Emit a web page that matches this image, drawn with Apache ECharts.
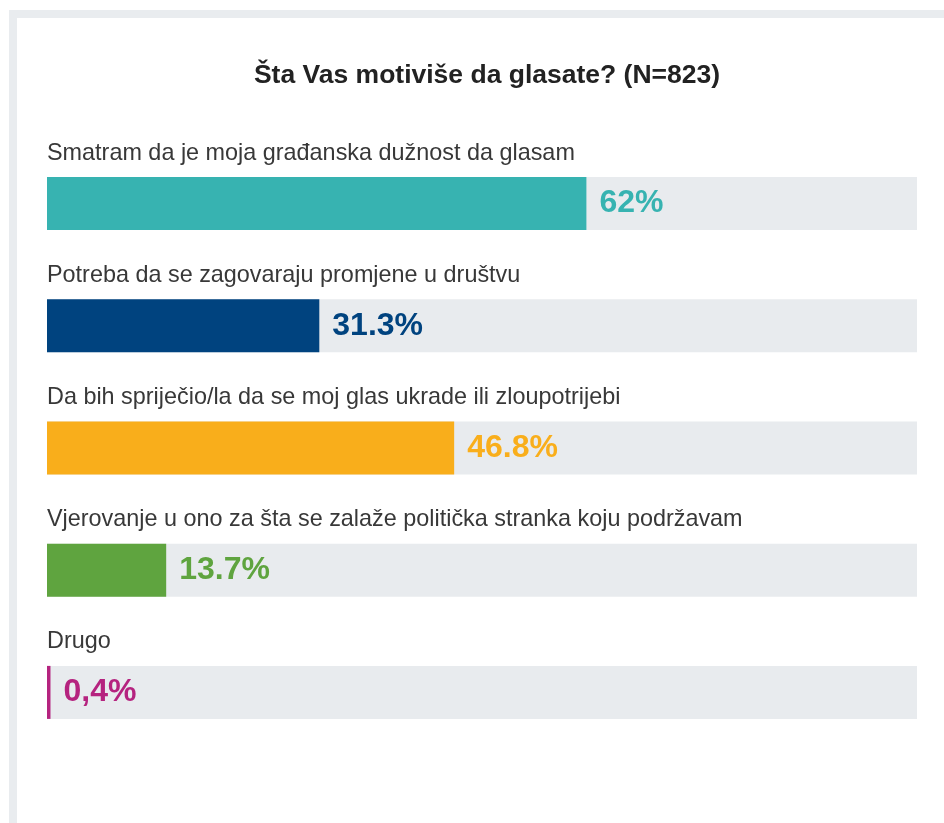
<!DOCTYPE html>
<html><head><meta charset="utf-8">
<script src="https://cdn.jsdelivr.net/npm/echarts@6/dist/echarts.min.js"></script>
<style>html,body{margin:0;padding:0;background:#fff}#c{width:944px;height:823px}</style>
</head><body><div id="c"></div>
<script>
const categories = [
  "Smatram da je moja građanska dužnost da glasam",
  "Potreba da se zagovaraju promjene u društvu",
  "Da bih spriječio/la da se moj glas ukrade ili zloupotrijebi",
  "Vjerovanje u ono za šta se zalaže politička stranka koju podržavam",
  "Drugo"
];
const values = [62, 31.3, 46.8, 13.7, 0.4];
const valueLabels = ["62%", "31.3%", "46.8%", "13.7%", "0,4%"];
const colors = ["#37b3b1", "#00437f", "#f9ae1b", "#5fa43f", "#b5237f"];

const chart = echarts.init(document.getElementById('c'), null, {renderer: 'canvas'});
const FONT = '"Liberation Sans", Arial, Helvetica, sans-serif';
chart.setOption({
  animation: false,
  backgroundColor: '#fff',
  title: {
    text: 'Šta Vas motiviše da glasate? (N=823)',
    left: 482, top: 57, textAlign: 'center',
    textStyle: {fontFamily: FONT, fontSize: 26.5, fontWeight: 'bold', color: '#222'}
  },
  graphic: [
    {type: 'rect', shape: {x: 9, y: 10, width: 935, height: 8}, style: {fill: '#e9ecef'}},
    {type: 'rect', shape: {x: 9, y: 10, width: 8, height: 813}, style: {fill: '#e9ecef'}}
  ],
  grid: {left: 47, right: 27, top: 142.5, bottom: 69.5},
  xAxis: {type: 'value', min: 0, max: 100, show: false},
  yAxis: {type: 'category', data: categories, inverse: true, show: false},
  series: [
    {
      type: 'bar', barWidth: 53,
      data: values.map((v, i) => ({value: v, itemStyle: {color: colors[i]},
        label: {color: colors[i], formatter: valueLabels[i]}})),
      showBackground: true,
      backgroundStyle: {color: '#e8ebee'},
      label: {show: true, position: 'right', distance: 13,
        fontFamily: FONT, fontSize: 32, fontWeight: 'bold'}
    },
    {
      type: 'bar', barWidth: 53, barGap: '-100%',
      data: values,
      itemStyle: {color: 'rgba(0,0,0,0)'},
      label: {show: true, position: [0, -24], align: 'left', verticalAlign: 'middle',
        formatter: p => categories[p.dataIndex],
        fontFamily: FONT, fontSize: 23.4, color: '#383838'},
      silent: true
    }
  ]
});
</script></body></html>
